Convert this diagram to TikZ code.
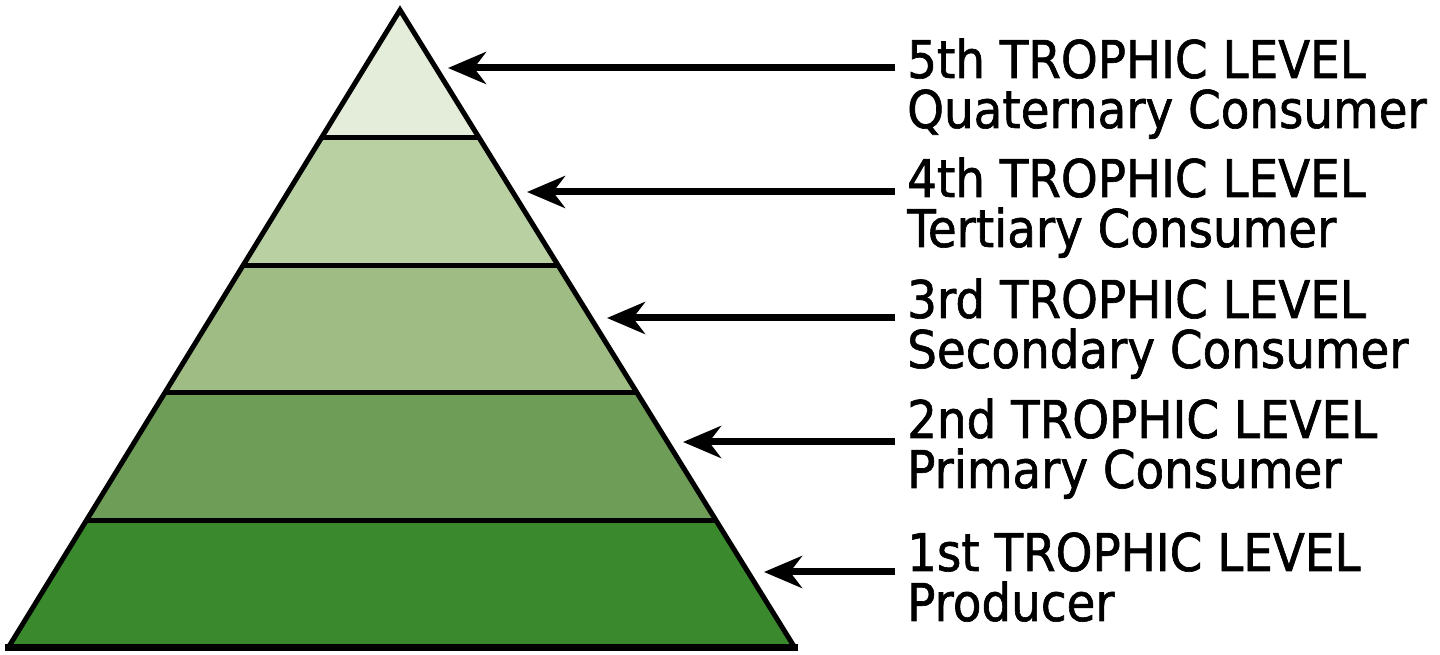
\documentclass[tikz,border=0pt]{standalone}
\usepackage{fontspec}
\newfontfamily\levelfont[FakeStretch=0.9,FakeBold=1.2]{DejaVu Sans}
\usetikzlibrary{arrows.meta,calc}

\definecolor{lvlOne}{RGB}{58,138,45}
\definecolor{lvlTwo}{RGB}{110,157,87}
\definecolor{lvlThree}{RGB}{159,188,133}
\definecolor{lvlFour}{RGB}{185,208,163}
\definecolor{lvlFive}{RGB}{227,237,218}

\tikzset{
  levellabel/.style={anchor=base west,align=left,inner xsep=12pt,inner ysep=0pt,
    font=\levelfont\fontsize{52}{50}\selectfont},
  levelarrow/.style={line width=7pt,-{Stealth[length=38pt,width=32pt,inset=12pt]}},
  bandline/.style={line width=5pt}
}

\begin{document}
\begin{tikzpicture}[x=1pt,y=1pt]
\path[use as bounding box,fill=white] (0,0) rectangle (1440,655);

% pyramid corners
\coordinate (apex) at (400,645);
\coordinate (bl) at (8,7);
\coordinate (br) at (795,7);

% bands, top to bottom
\foreach \lo/\hi/\col in {0/0.2/lvlFive,0.2/0.4/lvlFour,0.4/0.6/lvlThree,0.6/0.8/lvlTwo,0.8/1/lvlOne}
  \fill[\col] ($(apex)!\lo!(bl)$) -- ($(apex)!\hi!(bl)$) -- ($(apex)!\hi!(br)$) -- ($(apex)!\lo!(br)$) -- cycle;

\foreach \t in {0.2,0.4,0.6,0.8}
  \draw[bandline] ($(apex)!\t!(bl)$) -- ($(apex)!\t!(br)$);

\draw[line width=5pt] (bl) -- (apex) -- (br);
\draw[line width=7pt] ($(bl)+(-3,0)$) -- ($(br)+(3,0)$);

% arrow tips at the right edge
\coordinate (tip5) at (448,587);
\coordinate (tip4) at (527,463);
\coordinate (tip3) at (607,337);
\coordinate (tip2) at (683,213);
\coordinate (tip1) at (764,83);

% labels (anchored at the baseline of the second line)
\node[levellabel] (lvl5) at (895,527) {5th TROPHIC LEVEL\\Quaternary Consumer};
\node[levellabel] (lvl4) at (895,408) {4th TROPHIC LEVEL\\Tertiary Consumer};
\node[levellabel] (lvl3) at (895,287) {3rd TROPHIC LEVEL\\Secondary Consumer};
\node[levellabel] (lvl2) at (895,167) {2nd TROPHIC LEVEL\\Primary Consumer};
\node[levellabel] (lvl1) at (895,34) {1st TROPHIC LEVEL\\Producer};

\draw[levelarrow] (lvl5.west |- tip5) -- (tip5);
\draw[levelarrow] (lvl4.west |- tip4) -- (tip4);
\draw[levelarrow] (lvl3.west |- tip3) -- (tip3);
\draw[levelarrow] (lvl2.west |- tip2) -- (tip2);
\draw[levelarrow] (lvl1.west |- tip1) -- (tip1);
\end{tikzpicture}
\end{document}
